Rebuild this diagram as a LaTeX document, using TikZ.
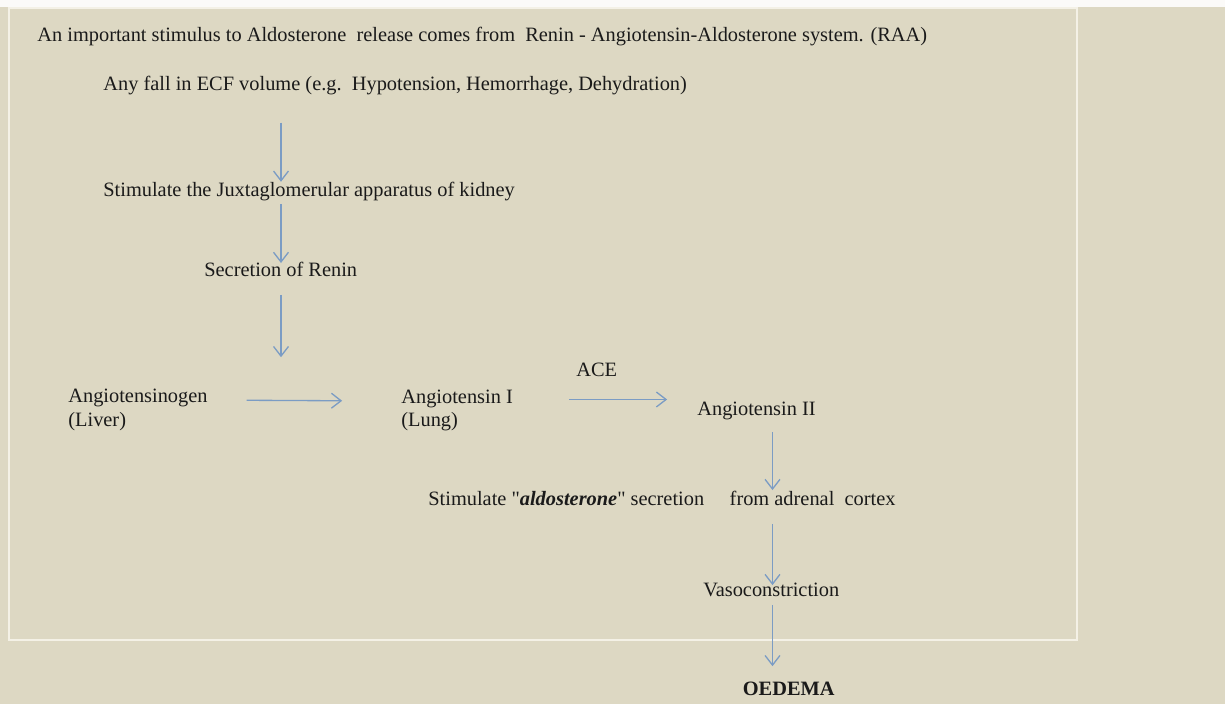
\documentclass[tikz,border=0pt]{standalone}
\usepackage{fontspec}
\setmainfont{Liberation Serif}
\usepackage{xcolor}
\usetikzlibrary{arrows}
\usetikzlibrary{arrows.meta}

\definecolor{paper}{HTML}{DDD8C3}
\definecolor{frameline}{HTML}{F4F1E6}
\definecolor{flowblue}{HTML}{7B9CC4}
\definecolor{ink}{HTML}{1A1A1A}

\begin{document}
\begin{tikzpicture}[x = 0.02cm, y = -0.02cm,
        txt/.style = {anchor = base west, inner sep = 0pt, text = ink,
            font = \fontsize{11.6}{14}\selectfont},
        flow/.style = {draw = flowblue, line width = 0.75pt,
            -{Straight Barb[length = 5.5pt, width = 8.5pt]}}]
        \useasboundingbox (0, 0) rectangle (1225, 704);
        \fill[paper] (0, 0) rectangle (1225, 704);
        \fill[white!88!paper] (0, 0) rectangle (1225, 7);
        \draw[frameline, line width = 1pt] (9, 8) rectangle (1077, 640);

        \coordinate (colA) at (281, 0);
        \coordinate (colB) at (772.5, 0);

        \node[txt] (raa) at (37, 41) {An important stimulus to Aldosterone\ \ release comes from\ \ Renin - Angiotensin-Aldosterone system. (RAA)};
        \node[txt] (ecf) at (103, 90) {Any fall in ECF volume (e.g.\ \ Hypotension, Hemorrhage, Dehydration)};
        \node[txt] (jga) at (103, 196.7) {Stimulate the Juxtaglomerular apparatus of kidney};
        \node[txt] (renin) at (204, 276.7) {Secretion of Renin};

        \node[txt] (agn) at (68, 402) {Angiotensinogen};
        \node[txt] (liver) at (68, 426) {(Liver)};
        \node[txt] (ang1) at (401, 403) {Angiotensin I};
        \node[txt] (lung) at (401, 426) {(Lung)};
        \node[txt] (ace) at (576, 376) {ACE};
        \node[txt] (ang2) at (697, 415) {Angiotensin II};

        \node[txt] (aldo) at (428, 505) {Stimulate \textquotedbl\textbf{\textit{aldosterone}}\textquotedbl\ secretion\quad\ from adrenal\ \ cortex};
        \node[txt] (vaso) at (703, 596.7) {Vasoconstriction};
        \node[txt] (oedema) at (742.5, 695) {\textbf{OEDEMA}};

        % down the left column
        \draw[flow, shorten <= 18.5pt, shorten >= 8.5pt] (ecf.base -| colA) -- (jga.base -| colA);
        \draw[flow, shorten <= 4.1pt, shorten >= 7.8pt] (jga.base -| colA) -- (renin.base -| colA);
        \draw[flow, shorten <= 10.4pt, shorten >= 25.5pt] (renin.base -| colA) -- (agn.base -| colA);

        % across
        \draw[flow, shorten <= 22pt, shorten >= 33.5pt] ([yshift = 1.1pt]agn.base east) -- ([yshift = 1.1pt]ang1.base west);
        \draw[flow, shorten <= 32pt, shorten >= 17pt] ([yshift = 2pt]ang1.base east) -- ([yshift = 2pt]ang1.base east -| ang2.west);

        % down the right column
        \draw[flow, shorten <= 9.6pt, shorten >= 8.5pt] (ang2.base -| colB) -- (aldo.base -| colB);
        \draw[flow, shorten <= 10.8pt, shorten >= 6.6pt] (aldo.base -| colB) -- (vaso.base -| colB);
        \draw[flow, shorten <= 4.7pt, shorten >= 16.4pt] (vaso.base -| colB) -- (oedema.base -| colB);
\end{tikzpicture}
\end{document}
